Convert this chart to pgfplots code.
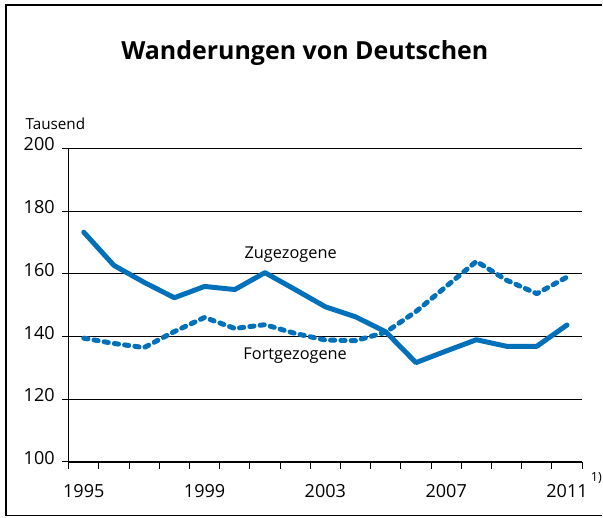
\documentclass[border=0pt]{standalone}
\usepackage{pgfplots}
\pgfplotsset{compat=1.18}
\usepackage{fontspec}
\setmainfont{Open Sans}
\definecolor{lineblue}{RGB}{0,112,186}

\begin{document}
\begin{tikzpicture}
\begin{axis}[
    at={(0,0)}, anchor=south west,
    scale only axis,
    width=387pt, height=236.25pt,
    xmin=1994.5, xmax=2011.5,
    ymin=100, ymax=200,
    axis lines*=left,
    axis line style={line width=0.8pt},
    xtick={1994.5,1995.5,...,2011.5},
    xticklabels={},
    extra x ticks={1995,1999,2003,2007,2011},
    extra x tick style={major tick length=0pt, grid=none},
    xticklabel style={yshift=-13.5pt},
    ytick={100,120,...,200},
    ymajorgrids,
    grid style={black, line width=0.7pt},
    tick align=outside,
    major tick length=5pt,
    tick style={black, line width=0.8pt},
    /pgf/number format/1000 sep={},
    /pgf/number format/assume math mode=true,
    tick label style={font=\fontsize{13.6}{16}\selectfont},
    yticklabel style={yshift=3pt, xshift=-2pt},
    clip=false,
]

% Zugezogene
\addplot[color=lineblue, line width=3.75pt, line join=round, line cap=round] coordinates {
    (1995,173.3) (1996,162.7) (1997,157.3) (1998,152.4) (1999,156.0)
    (2000,155.0) (2001,160.4) (2002,155.0) (2003,149.5) (2004,146.3)
    (2005,141.5) (2006,131.7) (2007,135.4) (2008,139.0) (2009,136.9)
    (2010,136.9) (2011,143.7)
};

% Fortgezogene
\addplot[color=lineblue, line width=3.75pt, line join=round, line cap=round,
    dash pattern=on 3.2pt off 4.6pt] coordinates {
    (1995,139.5) (1996,137.8) (1997,136.5) (1998,141.6) (1999,146.1)
    (2000,142.6) (2001,143.8) (2002,141.0) (2003,138.9) (2004,138.7)
    (2005,141.4) (2006,148.0) (2007,156.0) (2008,164.0) (2009,158.0)
    (2010,153.7) (2011,159.0)
};

\node[font=\fontsize{12.3}{14}\selectfont] at (axis cs:2001.85,166.1) {Zugezogene};
\node[font=\fontsize{12.3}{14}\selectfont] at (axis cs:2002.0,133.8) {Fortgezogene};
\node[anchor=base west, font=\fontsize{11.5}{14}\selectfont, xshift=-36pt, yshift=14.5pt]
    at (rel axis cs:0,1) {Tausend};
\node[anchor=base, font=\bfseries\fontsize{18.8}{22}\selectfont, xshift=178pt, yshift=67pt]
    at (rel axis cs:0,1) {Wanderungen von Deutschen};
\node[anchor=base west, inner sep=0pt, font=\fontsize{9.5}{11}\selectfont, xshift=6.5pt, yshift=-14.5pt]
    at (rel axis cs:1,0) {1)};
\end{axis}
\draw[line width=1.5pt] (-47.25pt,-40.35pt) -- (402pt,-40.35pt)
    (-47.25pt,-40.35pt) -- (-47.25pt,344.5pt) -- (402pt,344.5pt);
\useasboundingbox (-51.75pt,-41.8pt) rectangle (400.5pt,348.2pt);
\end{tikzpicture}
\end{document}
